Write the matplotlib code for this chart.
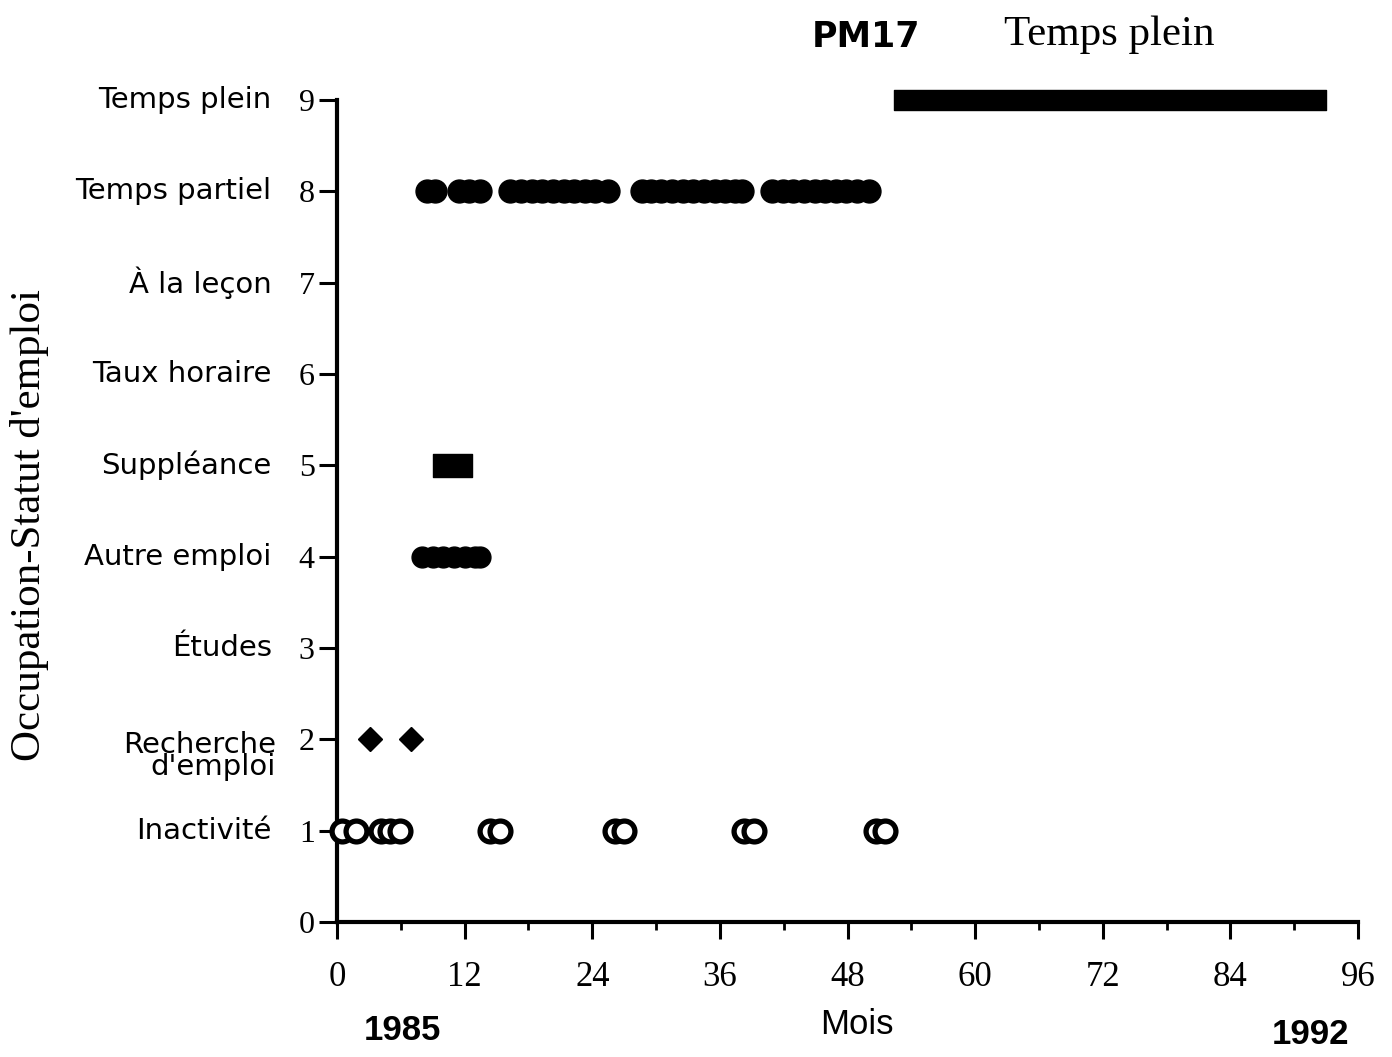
import matplotlib
matplotlib.use('Agg')
import matplotlib.pyplot as plt
from matplotlib.ticker import MultipleLocator

# ---- data (months since Jan 1985) ----
categories = ["Inactivité", "Recherche\nd'emploi", "Études", "Autre emploi",
              "Suppléance", "Taux horaire", "À la leçon", "Temps partiel", "Temps plein"]
category_codes = [1, 2, 3, 4, 5, 6, 7, 8, 9]
x_ticks = [0, 12, 24, 36, 48, 60, 72, 84, 96]

partiel_months = [8.5, 9.2, 11.5, 12.4, 13.4,
                  16.3, 17.3, 18.3, 19.3, 20.3, 21.3, 22.3, 23.3, 24.3, 25.5,
                  28.7, 29.5, 30.5, 31.5, 32.5, 33.5, 34.5, 35.5, 36.5, 37.4, 38.1,
                  40.9, 41.9, 42.9, 43.9, 44.9, 45.9, 46.9, 47.9, 48.9, 50.0]
autre_months = [8.0, 9.0, 10.0, 11.0, 12.0, 13.0, 13.4]
recherche_months = [3.1, 7.0]
inactivite_months = [0.5, 1.8, 4.1, 5.0, 5.9, 14.4, 15.3, 26.1, 27.0,
                     38.3, 39.2, 50.7, 51.5]
suppleance_span = (9.0, 12.7)   # start, end month
plein_span = (52.4, 93.0)       # start, end month

# ---- figure ----
fig = plt.figure(figsize=(13.92, 10.57), dpi=100)
ax = fig.add_axes([0.2421, 0.1277, 0.9756 - 0.2421, 0.9054 - 0.1277])
ax.set_xlim(0, 96)
ax.set_ylim(0, 9)
for s in ['top', 'right']:
    ax.spines[s].set_visible(False)
for s in ['left', 'bottom']:
    ax.spines[s].set_linewidth(3)

ax.plot(partiel_months, [8] * len(partiel_months), 'o', ms=16.5, color='black',
        clip_on=False, zorder=3)
ax.plot(autre_months, [4] * len(autre_months), 'o', ms=15, color='black',
        clip_on=False, zorder=3)
ax.plot(recherche_months, [2] * len(recherche_months), 'D', ms=12, color='black',
        clip_on=False, zorder=3)
ax.plot(inactivite_months, [1] * len(inactivite_months), 'o', ms=15,
        mfc='white', mec='black', mew=3.8, clip_on=False, zorder=3)
ax.broken_barh([(suppleance_span[0], suppleance_span[1] - suppleance_span[0])],
               (5 - 0.125, 0.25), color='black', zorder=3)
ax.broken_barh([(plein_span[0], plein_span[1] - plein_span[0])],
               (9 - 0.11, 0.22), color='black', clip_on=False, zorder=3)

serif = 'Liberation Serif'
sans = 'DejaVu Sans'

ax.set_yticks(list(range(0, 10)))
ax.set_yticklabels([str(i) for i in range(0, 10)], fontfamily=serif, fontsize=23)
ax.tick_params(axis='y', direction='out', length=13, width=2.2, pad=3)

ax.xaxis.set_major_locator(MultipleLocator(12))
ax.xaxis.set_minor_locator(MultipleLocator(6))
ax.set_xticks(x_ticks)
ax.set_xticklabels([str(v) for v in x_ticks], fontfamily=serif, fontsize=25)
ax.tick_params(axis='x', which='major', direction='out', length=12, width=2.2, pad=16)
ax.tick_params(axis='x', which='minor', direction='out', length=6, width=2)

for code, label in zip(category_codes, categories):
    if '\n' in label:
        ax.annotate(label, xy=(0, code), xycoords=('axes fraction', 'data'),
                    xytext=(-44, -12), textcoords='offset points',
                    ha='right', va='center', multialignment='right',
                    linespacing=0.75, fontfamily=sans, fontsize=21)
    else:
        ax.annotate(label, xy=(0, code), xycoords=('axes fraction', 'data'),
                    xytext=(-47, 0), textcoords='offset points',
                    ha='right', va='center', fontfamily=sans, fontsize=21)

# axis titles / annotations
fig.text(30 / 1392, 1 - 525 / 1057, "Occupation-Statut d'emploi", rotation=90,
         ha='center', va='center', fontfamily=serif, fontsize=31)
fig.text(857 / 1392, 1 - 1025 / 1057, "Mois", ha='center', va='center',
         fontfamily='Liberation Sans', fontsize=25)
fig.text(402 / 1392, 1 - 1030 / 1057, "1985", ha='center', va='center',
         fontfamily='Liberation Sans', fontweight='bold', fontsize=25)
fig.text(1310 / 1392, 1 - 1034 / 1057, "1992", ha='center', va='center',
         fontfamily='Liberation Sans', fontweight='bold', fontsize=25)

fig.text(866 / 1392, 1 - 37 / 1057, "PM17", ha='center', va='center',
         fontfamily='DejaVu Sans', fontweight='bold', fontsize=25)
fig.text(1109 / 1392, 1 - 35 / 1057, "Temps plein", ha='center', va='center',
         fontfamily=serif, fontsize=31)

fig.savefig('out.png', dpi=100)
